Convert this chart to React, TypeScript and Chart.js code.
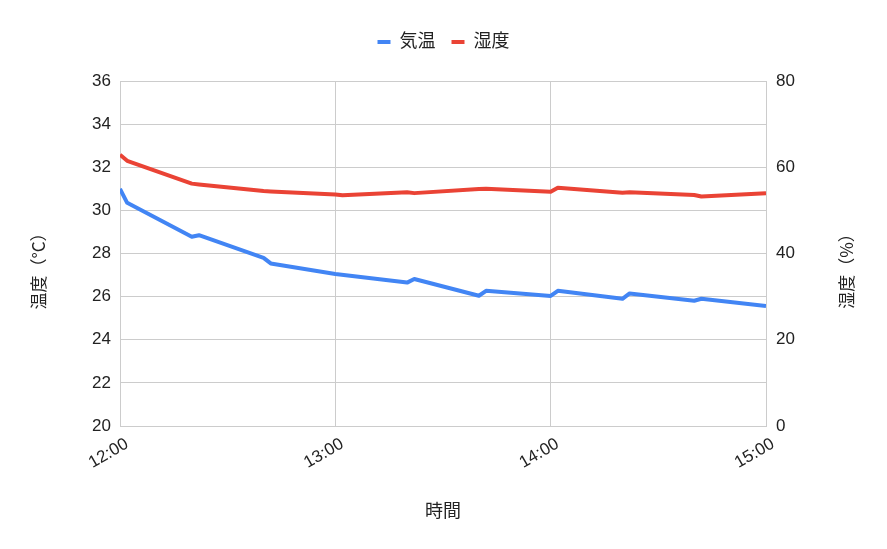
import { useRef, useEffect } from 'react';
import { Chart, registerables } from 'chart.js';

Chart.register(...registerables);

// minutes after 12:00
const tempTimes = [0, 2, 20, 22, 40, 42, 60, 80, 82, 100, 102, 120, 122, 140, 142, 160, 162, 180];
const tempValues = [31.0, 30.35, 28.78, 28.85, 27.8, 27.54, 27.05, 26.65, 26.82, 26.04, 26.27, 26.03, 26.27, 25.9, 26.15, 25.81, 25.9, 25.56];

const humidTimes = [0, 2, 20, 22, 40, 42, 60, 62, 80, 82, 100, 102, 120, 122, 140, 142, 160, 162, 180];
const humidValues = [62.9, 61.5, 56.2, 56.0, 54.5, 54.4, 53.7, 53.5, 54.2, 54.0, 54.95, 55.0, 54.3, 55.26, 54.1, 54.2, 53.57, 53.2, 53.96];

const xTickLabels = ['12:00', '13:00', '14:00', '15:00'];

const seriesNames = ['気温', '湿度'];
const xTitle = '時間';
const leftTitle = '温度（°C）';
const rightTitle = '湿度（%）';

const FONT = "'Liberation Sans', 'Noto Sans CJK JP', sans-serif";
const CJK_FONT = "'Noto Sans CJK JP', sans-serif";
const TEXT = '#222222';
const GRID = '#cccccc';

// y axis titles, both read bottom-to-top
const axisTitles = {
    id: 'axisTitles',
    afterDraw(chart: any) {
        const ctx = chart.ctx;
        ctx.save();
        ctx.font = `17px ${CJK_FONT}`;
        ctx.fillStyle = TEXT;
        ctx.textAlign = 'center';
        ctx.textBaseline = 'middle';
        [[39, leftTitle], [847, rightTitle]].forEach(([x, t]: any) => {
            ctx.save();
            ctx.translate(x, 267);
            ctx.rotate(-Math.PI / 2);
            ctx.fillText(t, 0, 0);
            ctx.restore();
        });
        ctx.restore();
    }
};

// extra room under the legend
const legendSpacer = {
    id: 'legendSpacer',
    beforeInit(chart: any) {
        const origFit = chart.legend.fit;
        chart.legend.fit = function () {
            origFit.call(this);
            this.height += 20;
        };
    }
};

const App = () => {
    const canvasRef = useRef(null);
    const chartRef = useRef<any>(null);

    useEffect(() => {
        if (!canvasRef.current) return;
        if (chartRef.current) chartRef.current.destroy();

        chartRef.current = new Chart(canvasRef.current, {
            type: 'line',
            data: {
                datasets: [
                    {
                        label: seriesNames[0],
                        data: tempTimes.map((t, i) => ({ x: t, y: tempValues[i] })),
                        borderColor: '#4285f4',
                        backgroundColor: '#4285f4',
                        borderWidth: 4,
                        borderJoinStyle: 'round',
                        pointRadius: 0,
                        tension: 0,
                        yAxisID: 'y'
                    },
                    {
                        label: seriesNames[1],
                        data: humidTimes.map((t, i) => ({ x: t, y: humidValues[i] })),
                        borderColor: '#ea4335',
                        backgroundColor: '#ea4335',
                        borderWidth: 4,
                        borderJoinStyle: 'round',
                        pointRadius: 0,
                        tension: 0,
                        yAxisID: 'y1'
                    }
                ]
            },
            options: {
                responsive: false,
                animation: false,
                layout: { padding: { top: 17, left: 0, right: 0, bottom: 0 } },
                plugins: {
                    legend: {
                        position: 'top',
                        labels: {
                            usePointStyle: true,
                            pointStyle: 'line',
                            pointStyleWidth: 13,
                            padding: 16,
                            color: TEXT,
                            font: { family: FONT, size: 18 }
                        }
                    },
                    tooltip: { enabled: false }
                },
                scales: {
                    x: {
                        type: 'linear',
                        min: 0,
                        max: 180,
                        afterFit: (s: any) => { s.height = 123; },
                        grid: { color: GRID, drawTicks: false },
                        border: { color: GRID },
                        ticks: {
                            stepSize: 60,
                            autoSkip: false,
                            minRotation: 30,
                            maxRotation: 30,
                            labelOffset: 7,
                            padding: 8,
                            color: TEXT,
                            font: { family: FONT, size: 17 },
                            callback: (v: any) => xTickLabels[Math.round(v / 60)]
                        },
                        title: {
                            display: true,
                            text: xTitle,
                            color: TEXT,
                            font: { family: FONT, size: 18 },
                            padding: { top: 0, bottom: 26 }
                        }
                    },
                    y: {
                        position: 'left',
                        min: 20,
                        max: 36,
                        afterFit: (s: any) => { s.width = 120; },
                        grid: { color: GRID, drawTicks: false },
                        border: { display: false },
                        ticks: {
                            stepSize: 2,
                            padding: 9,
                            color: TEXT,
                            font: { family: FONT, size: 17 }
                        }
                    },
                    y1: {
                        position: 'right',
                        min: 0,
                        max: 80,
                        afterFit: (s: any) => { s.width = 121; },
                        grid: { display: false, drawTicks: false },
                        border: { display: false },
                        ticks: {
                            stepSize: 20,
                            padding: 10,
                            color: TEXT,
                            font: { family: FONT, size: 17 }
                        }
                    }
                }
            },
            plugins: [legendSpacer, axisTitles]
        } as any);

        return () => { if (chartRef.current) chartRef.current.destroy(); };
    }, []);

    return (
        <div style={{ position: 'absolute', left: 0, top: 0, width: 887, height: 549, background: '#fff' }}>
            <canvas ref={canvasRef} width={887} height={549}></canvas>
        </div>
    );
};

export default App;
